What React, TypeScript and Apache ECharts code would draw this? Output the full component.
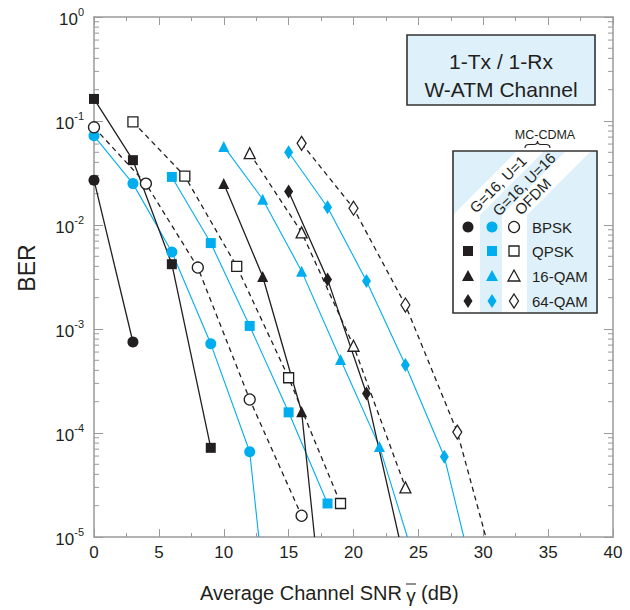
import React, { useEffect, useRef } from 'react';
import * as echarts from 'echarts';

const FONT = '"Liberation Sans", Arial, Helvetica, sans-serif';
const INK = '#231f20';
const BLUE = '#00aeef';
const PALE = '#def0fa';
const AXIS = '#9a9a9a';

type Pt = [number, number];

// x-axis (dB) ticks and y-axis (BER) range
const xMin = 0;
const xMax = 40;
const xStep = 5;
const yMin = 1e-5;
const yMax = 1;

// MC-CDMA, G=16, U=1 (black, filled, solid)
const u1Bpsk: Pt[] = [[0, 0.027], [3, 7.5e-4]];
const u1Qpsk: Pt[] = [[0, 0.163], [3, 0.042], [6, 0.0042], [9, 7.2e-5]];
const u1Qam16: Pt[] = [[10, 0.025], [13, 0.0032], [16, 1.6e-4]];
const u1Qam64: Pt[] = [[15, 0.021], [18, 0.003], [21, 2.4e-4]];

// MC-CDMA, G=16, U=16 (blue, filled, solid)
const u16Bpsk: Pt[] = [[0, 0.072], [3, 0.025], [6, 0.0055], [9, 7.2e-4], [12, 6.6e-5]];
const u16Qpsk: Pt[] = [[6, 0.029], [9, 0.0067], [12, 0.00107], [15, 1.58e-4], [18, 2.1e-5]];
const u16Qam16: Pt[] = [[10, 0.057], [13, 0.0177], [16, 0.0036], [19, 5.1e-4], [22, 7.4e-5]];
const u16Qam64: Pt[] = [[15, 0.05], [18, 0.0148], [21, 0.0029], [24, 4.5e-4], [27, 5.9e-5]];

// OFDM (black, open, dashed)
const ofdmBpsk: Pt[] = [[0, 0.087], [4, 0.025], [8, 0.0039], [12, 2.1e-4], [16, 1.6e-5]];
const ofdmQpsk: Pt[] = [[3, 0.098], [7, 0.0295], [11, 0.004], [15, 3.4e-4], [19, 2.1e-5]];
const ofdmQam16: Pt[] = [[12, 0.049], [16, 0.0085], [20, 6.9e-4], [24, 3e-5]];
const ofdmQam64: Pt[] = [[16, 0.061], [20, 0.0145], [24, 0.0017], [28, 1.02e-4]];

// SNR at which a curve leaves the bottom of the plot (null = ends inside)
const u1Qam16Exit = 17.0;
const u1Qam64Exit = 23.5;
const u16BpskExit = 12.7;
const u16Qam16Exit = 24.15;
const u16Qam64Exit = 28.5;
const ofdmQam64Exit = 30.2;

const modulations = ['BPSK', 'QPSK', '16-QAM', '64-QAM'];
const groupLabels = ['G=16, U=1', 'G=16, U=16', 'OFDM'];

const yMinorTicks: number[] = [];
for (let e = -5; e < 0; e++) for (let m = 2; m <= 9; m++) yMinorTicks.push(m * Math.pow(10, e));

echarts.graphic.registerShape(
  'brace',
  echarts.graphic.extendPath('M0,7 Q0,3.5 4,3.5 L9,3.5 Q12.5,3.5 12.5,0 Q12.5,3.5 16,3.5 L21,3.5 Q25,3.5 25,7', {})
);

const symbolSize: Record<string, number | number[]> = {
  circle: 11,
  rect: 10,
  triangle: 11,
  diamond: [9, 14],
};

function makeSeries(
  name: string,
  pts: Pt[],
  exitX: number | null,
  symbol: string,
  kind: 'u1' | 'u16' | 'ofdm'
) {
  const data: any[] = pts.map((p) => [p[0], p[1]]);
  if (exitX !== null) data.push({ value: [exitX, yMin], symbol: 'none' });
  const lineColor = kind === 'u16' ? BLUE : INK;
  const fill = kind === 'u1' ? INK : kind === 'u16' ? BLUE : '#ffffff';
  return {
    name,
    type: 'line',
    data,
    symbol,
    symbolSize: symbolSize[symbol],
    showAllSymbol: true,
    clip: true,
    z: kind === 'ofdm' ? 4 : 3,
    lineStyle: {
      color: lineColor,
      width: kind === 'u16' ? 1.1 : 1.3,
      type: kind === 'ofdm' ? [5, 4] : 'solid',
    },
    itemStyle: {
      color: fill,
      borderColor: kind === 'ofdm' ? INK : fill,
      borderWidth: kind === 'ofdm' ? 1.3 : 0,
    },
    emphasis: { disabled: true },
  };
}

function legendSymbol(shape: string, cx: number, cy: number, fill: string, stroke: string) {
  const style = { fill, stroke, lineWidth: stroke === 'none' ? 0 : 1.3 };
  if (shape === 'circle') return { type: 'circle', shape: { cx, cy, r: 5.5 }, style };
  if (shape === 'rect') return { type: 'rect', shape: { x: cx - 5, y: cy - 5, width: 10, height: 10 }, style };
  if (shape === 'triangle')
    return { type: 'polygon', shape: { points: [[cx, cy - 6], [cx + 6, cy + 5], [cx - 6, cy + 5]] }, style };
  return { type: 'polygon', shape: { points: [[cx, cy - 7], [cx + 4.5, cy], [cx, cy + 7], [cx - 4.5, cy]] }, style };
}

export default function App() {
  const ref = useRef<HTMLDivElement>(null);
  useEffect(() => {
    document.body.style.margin = '0';
    if (!ref.current) return;
    const chart = echarts.init(ref.current, null, { renderer: 'svg' });

    const shapes = ['circle', 'rect', 'triangle', 'diamond'];
    const colX = [468, 492, 514];
    const rowY = [227, 251, 276, 301];

    // legend box geometry
    const bx0 = 453, bx1 = 597, by0 = 151, by1 = 313, bd = 215;
    const rise = bd - by0;

    const txt = (x: number, y: number, text: string, size: number, align = 'center', rotation = 0) => ({
      type: 'text', x, y, rotation,
      style: { text, font: `${size}px ${FONT}`, fill: INK, textAlign: align, textVerticalAlign: 'middle' },
    });

    const graphics: any[] = [
      // title box
      {
        type: 'rect',
        shape: { x: 407, y: 35, width: 188, height: 70 },
        style: { fill: PALE, stroke: '#333333', lineWidth: 1.6 },
      },
      txt(501, 61, '1-Tx / 1-Rx', 21),
      txt(501, 89, 'W-ATM Channel', 21),
      // legend box
      {
        type: 'rect',
        shape: { x: bx0, y: by0, width: bx1 - bx0, height: by1 - by0 },
        style: { fill: PALE, stroke: 'none' },
      },
      {
        type: 'polygon',
        shape: { points: [[453, by1], [480, by1], [480, bd], [480 + rise, by0], [453 + rise, by0], [453, bd]] },
        style: { fill: '#ffffff' },
      },
      {
        type: 'polygon',
        shape: { points: [[502, by1], [527, by1], [527, bd], [527 + rise, by0], [502 + rise, by0], [502, bd]] },
        style: { fill: '#ffffff' },
      },
      {
        type: 'rect',
        shape: { x: bx0, y: by0, width: bx1 - bx0, height: by1 - by0 },
        style: { fill: 'none', stroke: '#333333', lineWidth: 1.6 },
      },
      txt(472, 210, groupLabels[0], 15, 'left', Math.PI / 4),
      txt(495, 213, groupLabels[1], 15, 'left', Math.PI / 4),
      txt(517, 212, groupLabels[2], 15, 'left', Math.PI / 4),
      txt(545, 135, 'MC-CDMA', 12.5),
      {
        type: 'brace', x: 525, y: 141,
        style: { fill: 'none', stroke: INK, lineWidth: 1.2 },
      },
      // axis names
      txt(402, 593, 'Average Channel SNR', 20, 'right'),
      txt(411, 595, '\u03b3', 19),
      {
        type: 'line',
        shape: { x1: 406, y1: 584, x2: 416, y2: 584 },
        style: { stroke: INK, lineWidth: 1 },
      },
      txt(421, 593, '(dB)', 20, 'left'),
      txt(27, 268, 'BER', 23, 'center', Math.PI / 2),
    ];

    modulations.forEach((m, i) => {
      graphics.push(legendSymbol(shapes[i], colX[0], rowY[i], INK, 'none'));
      graphics.push(legendSymbol(shapes[i], colX[1], rowY[i], BLUE, 'none'));
      graphics.push(legendSymbol(shapes[i], colX[2], rowY[i], '#ffffff', INK));
      graphics.push(txt(532, rowY[i], m, 15, 'left'));
    });

    const axisLine = { lineStyle: { color: AXIS, width: 1.5 } };

    const option: any = {
      animation: false,
      grid: { left: 94, right: 17, top: 17, bottom: 73, containLabel: false },
      xAxis: [
        {
          type: 'value', min: xMin, max: xMax, interval: xStep,
          axisLine: { ...axisLine, onZero: false },
          axisTick: { show: true, inside: true, length: 8, lineStyle: { color: AXIS, width: 1 } },
          minorTick: { show: true, splitNumber: 2, length: 4, lineStyle: { color: AXIS, width: 1 } },
          splitLine: { show: false },
          axisLabel: { color: INK, fontSize: 17, fontFamily: FONT, margin: 7 },
        },
        {
          type: 'value', position: 'top', min: xMin, max: xMax, interval: xStep,
          axisLine: { ...axisLine, onZero: false },
          axisTick: { show: true, inside: true, length: 8, lineStyle: { color: AXIS, width: 1 } },
          minorTick: { show: true, splitNumber: 2, length: 4, lineStyle: { color: AXIS, width: 1 } },
          splitLine: { show: false },
          axisLabel: { show: false },
        },
      ],
      yAxis: [
        {
          type: 'log', logBase: 10, min: yMin, max: yMax,
          axisLine: { ...axisLine, onZero: false },
          axisTick: { show: true, inside: true, length: 9, lineStyle: { color: AXIS, width: 1 } },
          splitLine: { show: false },
          axisLabel: {
            margin: 10,
            formatter: (v: number) => `{b|10}{s|${Math.round(Math.log10(v))}}`,
            rich: {
              b: { fontSize: 17, fontFamily: FONT, color: INK, lineHeight: 22, verticalAlign: 'bottom' },
              s: { fontSize: 11, fontFamily: FONT, color: INK, lineHeight: 12, verticalAlign: 'top' },
            },
          },
        },
        {
          type: 'log', logBase: 10, min: yMin, max: yMax, position: 'right',
          axisLine: { ...axisLine, onZero: false },
          axisTick: { show: true, inside: true, length: 9, lineStyle: { color: AXIS, width: 1 } },
          splitLine: { show: false },
          axisLabel: { show: false },
        },
      ],
      graphic: graphics,
      series: [
        {
          type: 'custom',
          silent: true,
          z: 1,
          data: yMinorTicks.map((v) => [0, v]),
          encode: { x: 0, y: 1 },
          renderItem: (_p: any, api: any) => {
            const v = api.value(1);
            const l = api.coord([xMin, v]);
            const r = api.coord([xMax, v]);
            return {
              type: 'group',
              children: [
                { type: 'line', shape: { x1: l[0], y1: l[1], x2: l[0] + 5, y2: l[1] }, style: { stroke: AXIS, lineWidth: 1 } },
                { type: 'line', shape: { x1: r[0] - 5, y1: r[1], x2: r[0], y2: r[1] }, style: { stroke: AXIS, lineWidth: 1 } },
              ],
            };
          },
        },
        makeSeries('OFDM BPSK', ofdmBpsk, null, 'circle', 'ofdm'),
        makeSeries('OFDM QPSK', ofdmQpsk, null, 'rect', 'ofdm'),
        makeSeries('OFDM 16-QAM', ofdmQam16, null, 'triangle', 'ofdm'),
        makeSeries('OFDM 64-QAM', ofdmQam64, ofdmQam64Exit, 'diamond', 'ofdm'),
        makeSeries('U=16 BPSK', u16Bpsk, u16BpskExit, 'circle', 'u16'),
        makeSeries('U=16 QPSK', u16Qpsk, null, 'rect', 'u16'),
        makeSeries('U=16 16-QAM', u16Qam16, u16Qam16Exit, 'triangle', 'u16'),
        makeSeries('U=16 64-QAM', u16Qam64, u16Qam64Exit, 'diamond', 'u16'),
        makeSeries('U=1 BPSK', u1Bpsk, null, 'circle', 'u1'),
        makeSeries('U=1 QPSK', u1Qpsk, null, 'rect', 'u1'),
        makeSeries('U=1 16-QAM', u1Qam16, u1Qam16Exit, 'triangle', 'u1'),
        makeSeries('U=1 64-QAM', u1Qam64, u1Qam64Exit, 'diamond', 'u1'),
      ],
    };

    chart.setOption(option);
    return () => chart.dispose();
  }, []);

  return <div ref={ref} style={{ width: 630, height: 610 }} />;
}
